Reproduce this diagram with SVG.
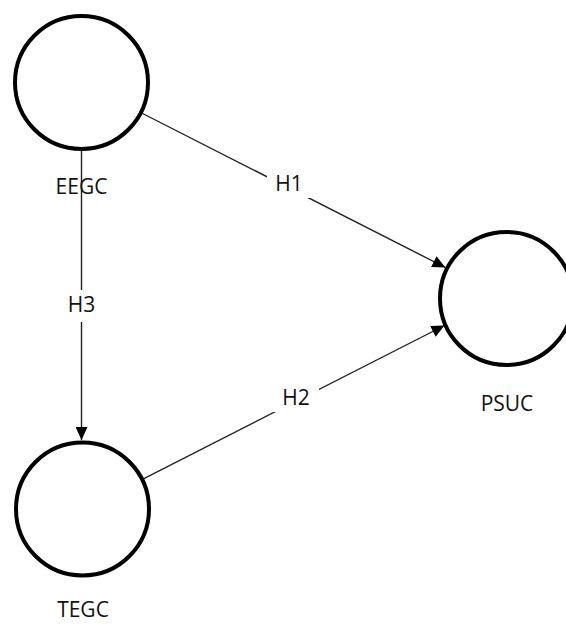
<svg xmlns="http://www.w3.org/2000/svg" width="566" height="624" viewBox="0 0 566 624">
  <style>
    .node { fill: #ffffff; stroke: #000000; stroke-width: 4; }
    .edge { stroke: #222222; stroke-width: 1.4; fill: none; }
    .lbl { font-family: "Open Sans", "Noto Sans", sans-serif; font-size: 21px; fill: #111111; text-anchor: middle; }
    .bg { fill: #ffffff; stroke: none; }
  </style>
  <defs>
    <marker id="arrow" markerUnits="userSpaceOnUse" markerWidth="14" markerHeight="12" refX="13" refY="6" orient="auto">
      <path d="M0,0 L13,6 L0,12 Z" fill="#000000"/>
    </marker>
  </defs>
  <rect width="566" height="624" fill="#ffffff"/>
  <g id="connectors">
    <line class="edge" x1="142.6" y1="113.5" x2="445.4" y2="267.5" marker-end="url(#arrow)"/>
    <line class="edge" x1="143.4" y1="478.8" x2="444.5" y2="325.5" marker-end="url(#arrow)"/>
    <line class="edge" x1="81.5" y1="151" x2="81.5" y2="440" marker-end="url(#arrow)"/>
    <g id="label-H1">
      <rect class="bg" x="267" y="168" width="44" height="30"/>
      <text class="lbl" x="289" y="191">H1</text>
    </g>
    <g id="label-H3">
      <rect class="bg" x="59" y="290" width="45" height="32"/>
      <text class="lbl" x="81.5" y="312">H3</text>
    </g>
    <g id="label-H2">
      <rect class="bg" x="273" y="382" width="46" height="30"/>
      <text class="lbl" x="296" y="405">H2</text>
    </g>
  </g>
  <g id="EEGC">
    <circle class="node" cx="81.5" cy="82.5" r="66.5"/>
    <text class="lbl" x="81.5" y="194">EEGC</text>
  </g>
  <g id="TEGC">
    <circle class="node" cx="82.5" cy="509" r="66.5"/>
    <text class="lbl" x="83" y="617">TEGC</text>
  </g>
  <g id="PSUC">
    <circle class="node" cx="506.5" cy="298.5" r="66.5"/>
    <text class="lbl" x="507" y="411">PSUC</text>
  </g>
</svg>
